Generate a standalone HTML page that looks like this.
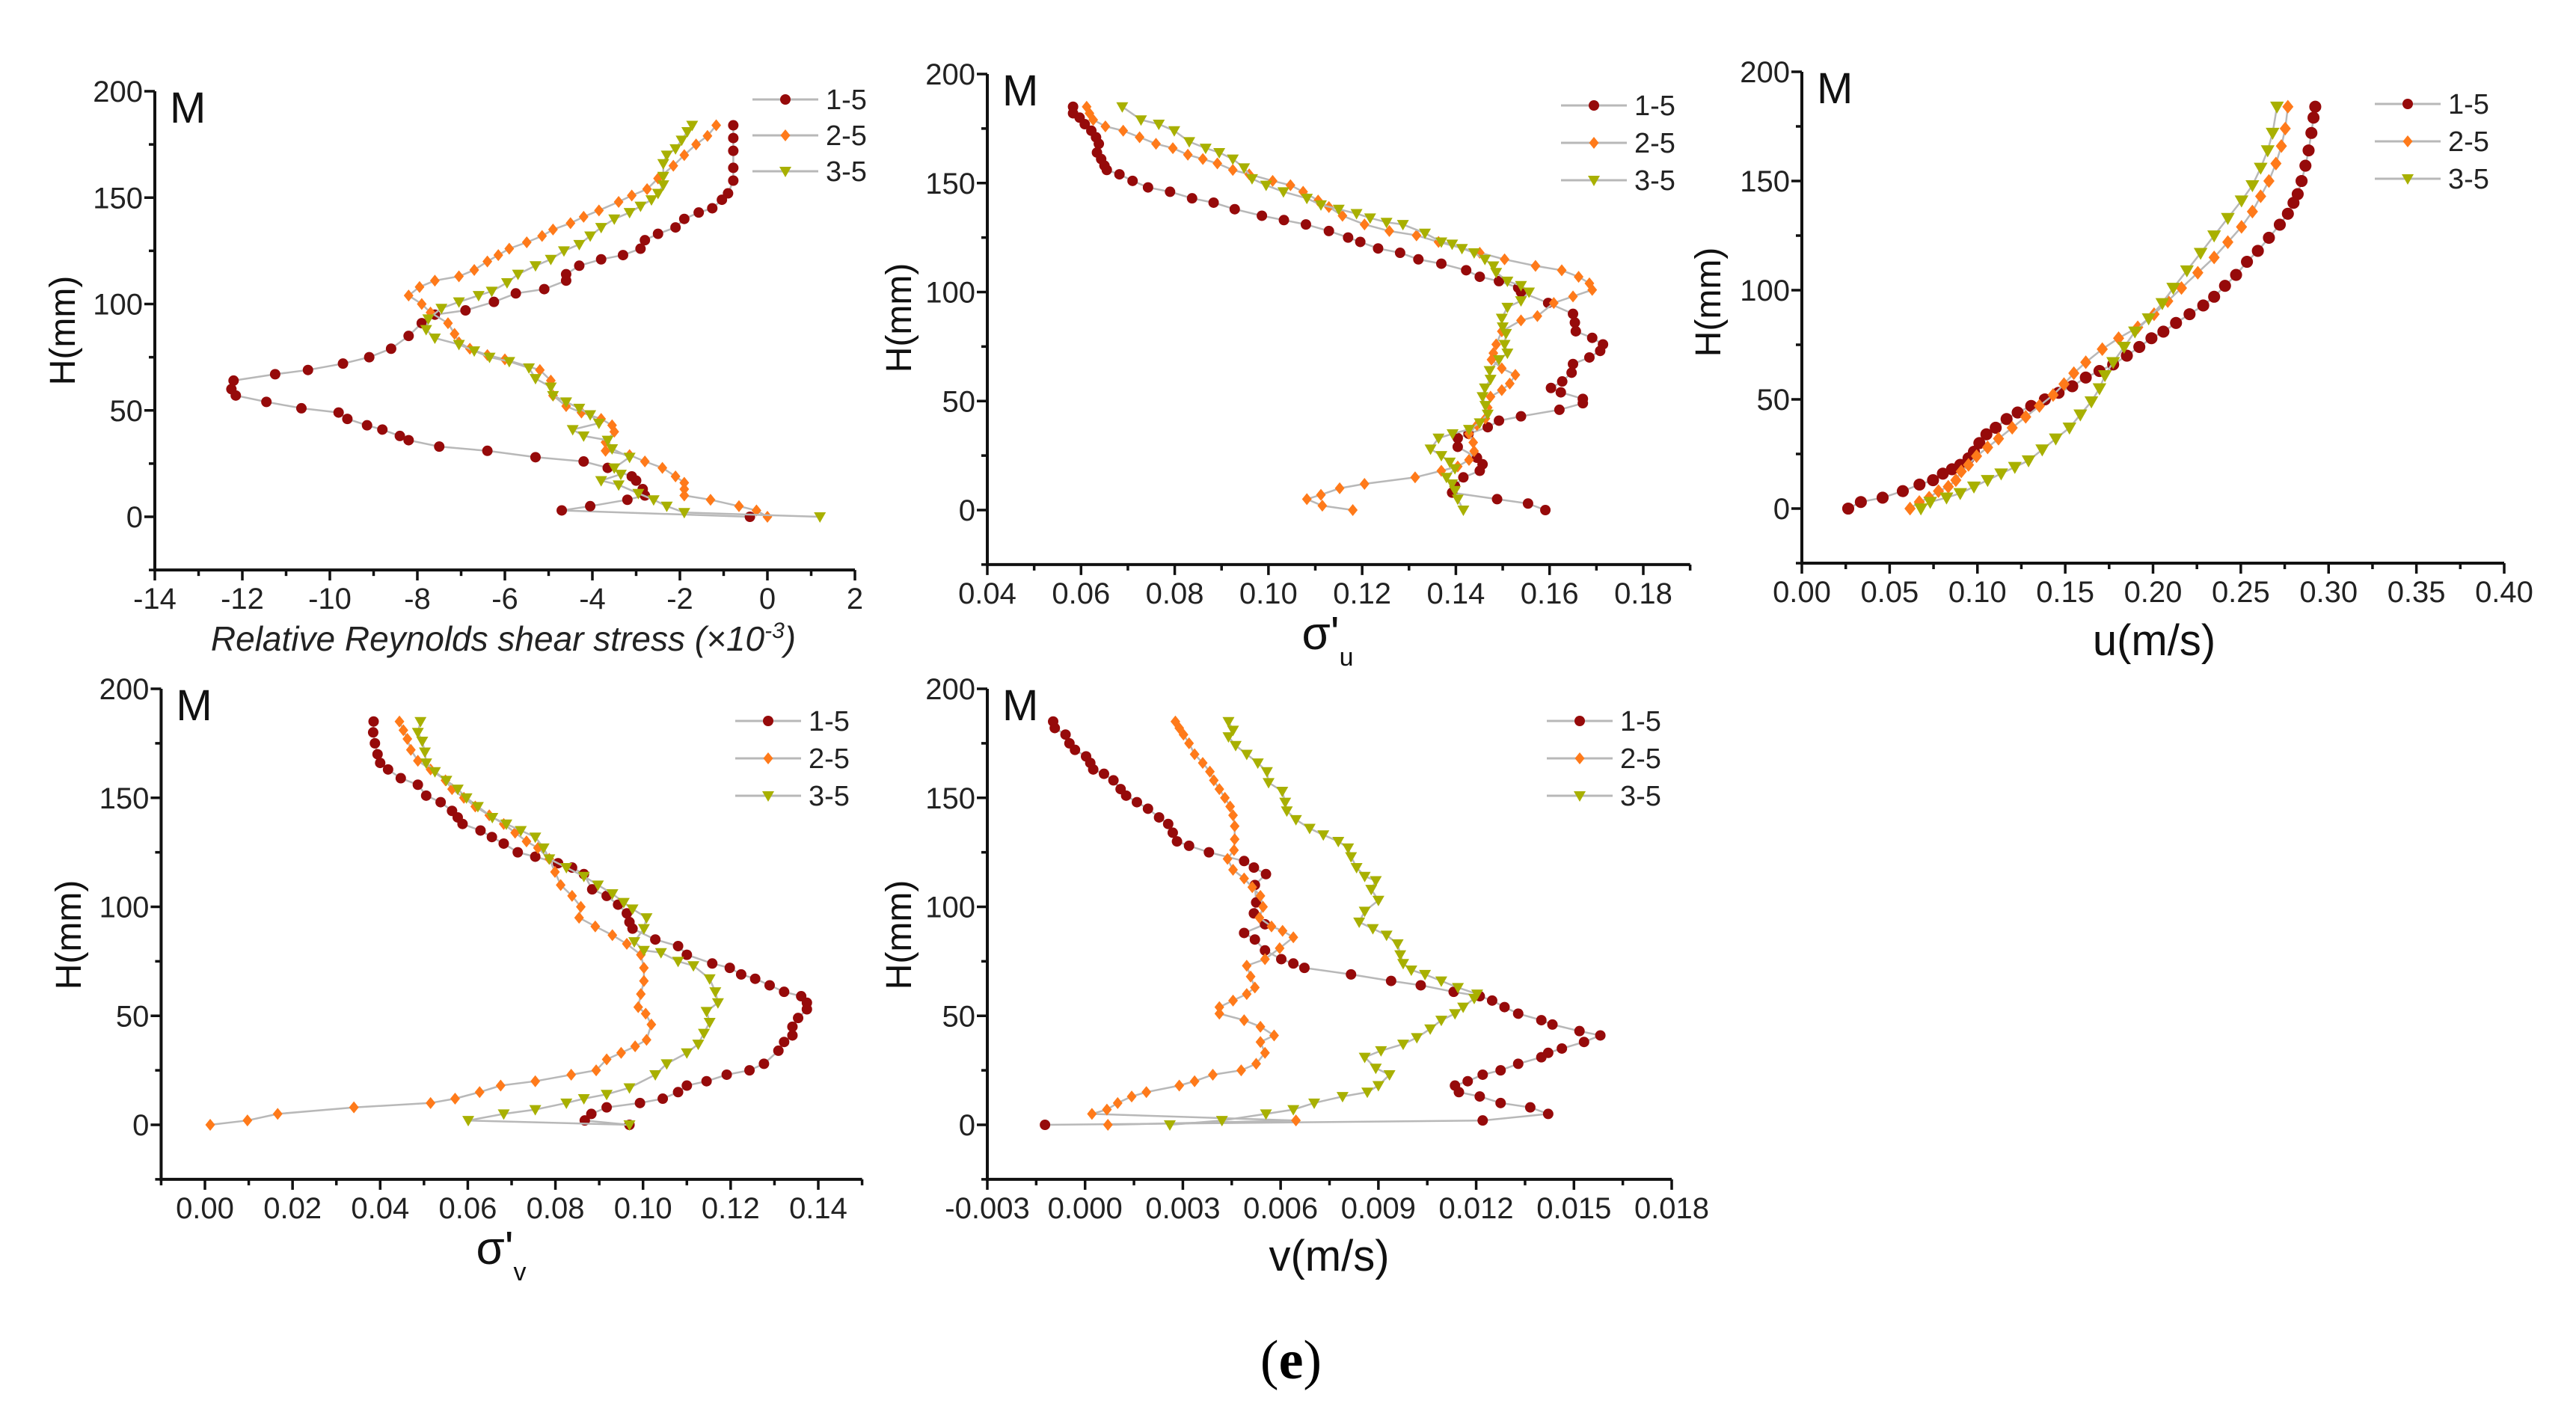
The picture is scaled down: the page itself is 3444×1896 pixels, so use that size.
<!DOCTYPE html>
<html><head><meta charset="utf-8"><style>
html,body{margin:0;padding:0;background:#fff;}
svg{display:block;font-family:"Liberation Sans",sans-serif;}
</style></head><body>
<svg id="fig" width="3444" height="1896" viewBox="0 0 3444 1896" xmlns="http://www.w3.org/2000/svg">
<rect width="3444" height="1896" fill="#fff"/>
<text x="1726" y="1843" text-anchor="middle" font-family="Liberation Serif, serif" font-size="74">(<tspan font-weight="bold">e</tspan>)</text>
</svg>
<script>
// ---- Panel 1: Relative Reynolds shear stress ----
const rs_h15=[184,178,172,164,158,152,149,145,143,140,136,133,130,126,123,121,118,114,111,107,105,101,97,95,91,85,79,75,72,69,67,64,60,57,54,51,49,46,43,41,38,36,33,31,28,26,23,19,17,13,10,8,5,3,0];
const rs_x15=[-0.78,-0.78,-0.78,-0.78,-0.78,-0.9,-1.04,-1.26,-1.57,-1.9,-2.1,-2.5,-2.8,-2.9,-3.3,-3.8,-4.3,-4.6,-4.6,-5.1,-5.75,-6.25,-6.9,-7.6,-7.9,-8.2,-8.6,-9.1,-9.7,-10.5,-11.25,-12.2,-12.25,-12.15,-11.45,-10.65,-9.8,-9.6,-9.15,-8.8,-8.4,-8.2,-7.5,-6.4,-5.3,-4.2,-3.65,-3.1,-3.0,-2.85,-2.8,-3.2,-4.05,-4.7,-0.4];
const rs_h25=[184,179,175,170,165,159,154,151,148,144,141,138,135,132,129,126,123,120,116,113,111,108,104,100,96,91,86,82,79,76,74,69,64,57,52,49,46,43,40,35,31,29,26,23,19,16,13,10,8,5,3,0];
const rs_x25=[-1.17,-1.37,-1.63,-1.9,-2.15,-2.5,-2.75,-3.1,-3.4,-3.85,-4.2,-4.5,-4.9,-5.15,-5.5,-5.9,-6.15,-6.4,-6.7,-7.05,-7.6,-7.95,-8.2,-7.9,-7.7,-7.3,-7.15,-7.05,-6.8,-6.4,-6.0,-5.2,-4.95,-4.9,-4.6,-4.25,-3.8,-3.55,-3.5,-3.7,-3.7,-3.15,-2.8,-2.4,-2.1,-1.9,-1.9,-1.9,-1.3,-0.65,-0.25,0];
const rs_h35=[184,181,177,173,170,166,160,156,152,149,146,143,140,136,132,128,125,121,118,114,110,106,104,101,98,93,88,84,81,78,75,73,70,65,61,57,54,51,48,44,41,38,36,32,28,23,20,17,15,11,8,5,2,0];
const rs_x35=[-1.72,-1.83,-1.96,-2.1,-2.3,-2.38,-2.38,-2.38,-2.5,-2.65,-2.9,-3.15,-3.5,-3.8,-4.05,-4.3,-4.65,-4.95,-5.3,-5.7,-5.95,-6.3,-6.6,-7.05,-7.45,-7.75,-7.8,-7.6,-7.05,-6.7,-6.35,-5.9,-5.45,-5.3,-4.95,-4.9,-4.6,-4.3,-4.05,-3.85,-4.45,-4.2,-3.65,-3.55,-3.15,-3.5,-3.35,-3.8,-3.4,-2.95,-2.6,-2.3,-1.9,1.2];
const rs_xticks=[-14,-12,-10,-8,-6,-4,-2,0,2];
const rs_xtickLabels=["-14","-12","-10","-8","-6","-4","-2","0","2"];

// ---- Panel 2: sigma'u ----
const su_h15=[185,182,180,177,174,171,168,164,161,158,156,154,151,148,146,143,141,138,135,133,131,128,125,123,120,118,115,113,110,107,105,102,100,95,90,86,82,79,76,73,70,67,63,59,56,54,51,49,46,43,41,38,35,33,29,24,21,18,15,11,8,5,3,0];
const su_x15=[0.0583,0.0583,0.0597,0.0608,0.0622,0.0632,0.0638,0.0634,0.0643,0.065,0.0655,0.0682,0.071,0.0743,0.079,0.0837,0.0883,0.0928,0.0986,0.1033,0.108,0.1129,0.117,0.1196,0.1234,0.1281,0.132,0.1369,0.1422,0.1451,0.1492,0.1533,0.1539,0.1597,0.165,0.1654,0.1656,0.1691,0.1714,0.1708,0.1685,0.165,0.1647,0.1627,0.1603,0.1624,0.1671,0.1671,0.1621,0.1539,0.1492,0.1468,0.1427,0.1404,0.1404,0.1445,0.1457,0.1451,0.1416,0.1398,0.1392,0.1488,0.1554,0.1591];
const su_h25=[185,182,179,176,174,171,168,166,163,161,159,156,154,151,149,146,142,139,135,131,128,126,123,118,115,112,110,107,104,101,98,95,89,87,82,76,72,69,65,62,58,55,52,47,42,39,35,31,27,23,20,18,15,12,10,7,5,2,0];
const su_x25=[0.0612,0.0618,0.0626,0.0652,0.069,0.0725,0.076,0.0796,0.0828,0.086,0.0891,0.0924,0.0959,0.1009,0.1047,0.1074,0.1106,0.1129,0.1158,0.1205,0.1258,0.1316,0.1363,0.1451,0.1504,0.157,0.1626,0.1662,0.1685,0.1691,0.165,0.1609,0.1574,0.1539,0.1498,0.1486,0.148,0.1476,0.1498,0.1527,0.1515,0.1498,0.1474,0.1468,0.1463,0.1445,0.1428,0.1437,0.1439,0.1428,0.1404,0.1369,0.1313,0.1205,0.1152,0.1112,0.1082,0.1115,0.118];
const su_h35=[185,179,177,174,169,166,164,161,157,152,149,146,143,140,138,136,134,132,131,127,123,122,120,118,115,112,109,105,103,100,96,93,88,84,81,76,72,69,64,60,56,52,48,44,40,37,35,33,28,25,22,19,15,12,9,5,0];
const su_x35=[0.0688,0.0728,0.0766,0.0799,0.0831,0.0866,0.0895,0.0924,0.0948,0.0965,0.0995,0.1032,0.1082,0.1112,0.115,0.1188,0.1217,0.1252,0.1287,0.1334,0.1369,0.1392,0.1413,0.1439,0.1462,0.148,0.1486,0.151,0.1539,0.1556,0.1539,0.151,0.1498,0.15,0.1507,0.1504,0.151,0.1492,0.1472,0.1474,0.1462,0.1457,0.1463,0.1468,0.1451,0.1428,0.1393,0.1363,0.1346,0.1369,0.1387,0.1398,0.138,0.1392,0.1398,0.1404,0.1416];
const su_xticks=[0.04,0.06,0.08,0.10,0.12,0.14,0.16,0.18];
const su_xtickLabels=["0.04","0.06","0.08","0.10","0.12","0.14","0.16","0.18"];

// ---- Panel 3: u ----
const u_h15=[0,3,5,8,11,13,16,18,20,23,26,30,34,37,41,44,47,50,53,56,60,63,66,70,74,78,81,85,89,93,97,102,107,113,118,124,130,135,140,144,150,157,164,172,179,184];
const u_x15=[0.0264,0.0336,0.046,0.0575,0.067,0.0747,0.0803,0.0855,0.0902,0.0949,0.098,0.1011,0.1051,0.1104,0.1166,0.1229,0.1306,0.1384,0.1462,0.154,0.1617,0.1695,0.1773,0.1851,0.1922,0.1991,0.2059,0.2131,0.2208,0.2286,0.2348,0.241,0.2473,0.2535,0.2597,0.266,0.2722,0.2768,0.28,0.2824,0.2846,0.2868,0.2886,0.2902,0.2914,0.2924];
const u_h25=[0,3,5,8,10,13,17,20,24,28,32,37,42,47,52,57,62,67,73,78,83,89,95,101,108,115,122,129,136,143,150,158,166,174,184];
const u_x25=[0.0616,0.0669,0.0725,0.0778,0.0834,0.0877,0.0908,0.0949,0.0995,0.1058,0.112,0.1198,0.1275,0.1353,0.1431,0.1493,0.1549,0.1617,0.1711,0.1804,0.1913,0.2006,0.2084,0.2162,0.2255,0.2348,0.2426,0.2504,0.2566,0.2613,0.266,0.27,0.2731,0.2753,0.2768];
const u_h35=[0,3,5,7,10,13,16,19,22,27,32,37,43,49,55,61,67,74,81,87,94,101,109,117,125,133,141,148,156,164,172,184];
const u_x35=[0.0678,0.0731,0.0824,0.0902,0.098,0.1058,0.1135,0.1213,0.1291,0.1369,0.1446,0.1524,0.1586,0.1649,0.1695,0.1726,0.1773,0.1835,0.1897,0.1975,0.2053,0.2115,0.2193,0.2271,0.2348,0.2426,0.2504,0.2566,0.2613,0.2653,0.2681,0.2706];
const u_xticks=[0,0.05,0.10,0.15,0.20,0.25,0.30,0.35,0.40];
const u_xtickLabels=["0.00","0.05","0.10","0.15","0.20","0.25","0.30","0.35","0.40"];

// ---- Panel 4: sigma'v ----
const sv_h15=[185,180,175,170,166,163,159,156,151,148,144,141,138,135,132,129,125,123,120,118,115,108,105,101,97,93,90,85,82,78,74,72,69,67,64,61,59,56,53,49,45,41,38,34,28,25,23,20,18,15,12,10,8,5,2,0];
const sv_x15=[0.0385,0.0384,0.0388,0.0394,0.04,0.0418,0.0447,0.0486,0.0505,0.0538,0.0564,0.0577,0.0588,0.0629,0.0655,0.0682,0.0714,0.0754,0.0806,0.0838,0.0865,0.0884,0.0917,0.0943,0.0963,0.0969,0.0976,0.1028,0.108,0.11,0.1158,0.1198,0.1224,0.1256,0.1289,0.1322,0.1361,0.1374,0.1374,0.1354,0.1341,0.1341,0.1322,0.1309,0.1276,0.1243,0.1191,0.1145,0.11,0.108,0.1045,0.0993,0.0917,0.0882,0.0867,0.0969];
const sv_h25=[185,181,177,172,167,163,158,154,150,146,142,138,134,130,127,122,116,110,105,100,95,91,87,83,78,72,66,60,54,51,46,39,36,33,30,25,23,20,18,15,12,10,8,5,2,0];
const sv_x25=[0.0444,0.0453,0.0462,0.047,0.0486,0.0515,0.0549,0.0564,0.0591,0.0617,0.0649,0.0682,0.0708,0.0734,0.076,0.0786,0.0799,0.0812,0.0838,0.0858,0.0854,0.0891,0.093,0.0963,0.0995,0.1002,0.1002,0.0995,0.0989,0.1006,0.1019,0.1008,0.0982,0.095,0.0917,0.0893,0.0836,0.0754,0.0675,0.0627,0.0571,0.0515,0.034,0.0166,0.0097,0.0012];
const sv_h35=[185,180,176,171,166,162,158,154,150,146,141,138,135,132,127,122,118,114,110,106,102,99,95,90,84,80,79,75,73,67,61,56,52,47,42,37,33,28,23,17,14,12,10,7,5,2,0];
const sv_x35=[0.0492,0.0486,0.0496,0.0502,0.0505,0.0525,0.0551,0.0577,0.0597,0.0623,0.0656,0.0688,0.0721,0.0754,0.0773,0.0786,0.0825,0.0865,0.0897,0.093,0.0956,0.0976,0.1008,0.1002,0.098,0.1002,0.1041,0.108,0.1115,0.1152,0.1165,0.1171,0.1145,0.1152,0.1139,0.1126,0.11,0.1054,0.1028,0.0969,0.0917,0.0865,0.0825,0.0754,0.0682,0.0601,0.0969];
const sv_xticks=[0,0.02,0.04,0.06,0.08,0.10,0.12,0.14];
const sv_xtickLabels=["0.00","0.02","0.04","0.06","0.08","0.10","0.12","0.14"];

// ---- Panel 5: v ----
const v_h15=[185,182,179,175,172,169,166,163,161,158,154,151,148,145,141,138,134,130,128,125,121,118,115,110,102,97,92,88,85,80,76,74,72,69,66,64,61,59,57,54,51,48,46,43,41,38,35,33,31,28,25,23,20,18,15,13,10,8,5,2,0];
const v_x15=[-0.00098,-0.00093,-0.0006,-0.00048,-0.00031,0.00003,0.00016,0.00025,0.00058,0.00087,0.00109,0.00126,0.00159,0.00193,0.00227,0.00255,0.00269,0.00282,0.00319,0.0038,0.00488,0.00518,0.00555,0.00521,0.00525,0.00518,0.00552,0.00488,0.00521,0.00552,0.00602,0.00639,0.00673,0.00816,0.00939,0.0103,0.01131,0.01211,0.01249,0.01287,0.01329,0.014,0.01434,0.01517,0.01581,0.01531,0.01463,0.01421,0.014,0.01329,0.01275,0.0122,0.01174,0.01135,0.01147,0.01211,0.01275,0.01366,0.01421,0.0122,-0.00123];
const v_h25=[185,182,179,175,170,166,162,158,154,150,146,142,137,131,126,122,117,113,109,105,100,95,91,89,86,81,76,73,68,63,60,57,54,51,48,45,41,38,33,28,25,23,20,18,15,13,10,7,5,2,0];
const v_x25=[0.00277,0.00289,0.00302,0.00319,0.00336,0.00361,0.00383,0.00395,0.00412,0.00429,0.00445,0.00454,0.00459,0.00459,0.00457,0.00437,0.00454,0.00488,0.00513,0.00538,0.00546,0.00535,0.00572,0.00606,0.00639,0.00597,0.00552,0.00496,0.00508,0.00521,0.00496,0.00454,0.00412,0.00412,0.00488,0.00538,0.0058,0.00538,0.00552,0.00525,0.00479,0.00392,0.00336,0.00289,0.00188,0.00143,0.001,0.00067,0.00021,0.00647,0.0007];
const v_h35=[185,181,178,174,170,166,162,157,153,148,144,140,136,133,130,127,123,118,114,112,108,103,98,93,90,87,83,78,74,71,69,66,63,60,58,54,51,48,44,40,37,34,31,26,23,18,15,13,10,7,5,2,0];
const v_x35=[0.0044,0.00454,0.0044,0.00462,0.00496,0.0053,0.00558,0.00563,0.00605,0.00614,0.00619,0.00647,0.00689,0.00731,0.00777,0.00807,0.00816,0.00833,0.00858,0.00892,0.00878,0.009,0.00858,0.00841,0.00883,0.00925,0.00959,0.00967,0.00976,0.01001,0.01043,0.01093,0.01144,0.01203,0.01194,0.0116,0.01135,0.01093,0.01059,0.01018,0.00976,0.00908,0.00858,0.00892,0.00934,0.009,0.00866,0.0079,0.00703,0.00639,0.00555,0.0042,0.0026];
const v_xticks=[-0.003,0,0.003,0.006,0.009,0.012,0.015,0.018];
const v_xtickLabels=["-0.003","0.000","0.003","0.006","0.009","0.012","0.015","0.018"];

const yTicks=[0,50,100,150,200];
const yTickLabels=["0","50","100","150","200"];
const seriesNames=["1-5","2-5","3-5"];

const NS="http://www.w3.org/2000/svg";
const svg=document.getElementById('fig');
const COLORS=["#960a0a","#ff7a1a","#a8b000"];
function mk(tag,attrs,parent){const e=document.createElementNS(NS,tag);for(const k in attrs)e.setAttribute(k,attrs[k]);(parent||svg).appendChild(e);return e;}

function panel(cfg){
  const g=mk('g',{});
  
  
  const sx=v=>cfg.x0px+(v-cfg.x0v)*(cfg.x1px-cfg.x0px)/(cfg.x1v-cfg.x0v);
  const sy=v=>cfg.y0px+(v)*(cfg.y200px-cfg.y0px)/200;
  const left=sx(cfg.xmin), right=sx(cfg.xmax), bottom=sy(-25), top=sy(200);
  const ax=mk('path',{d:`M${left},${top}L${left},${bottom}L${right},${bottom}`,fill:'none',stroke:'#111','stroke-width':4},g);
  
  
  for(let v=cfg.xmin;v<=cfg.xmax+1e-9;v+=cfg.minor){
    const px=sx(v);
    const isMaj=cfg.xticks.some(t=>Math.abs(t-v)<cfg.minor/10);
    const t=mk('line',{x1:px,y1:bottom,x2:px,y2:bottom+(isMaj?14:8),stroke:'#111','stroke-width':3.5},g);
    
    
  }
  cfg.xticks.forEach((v,i)=>{
    const t=mk('text',{x:sx(v),y:bottom+52,'text-anchor':'middle','font-size':40,fill:'#222'},g);
    
    
    t.textContent=cfg.xlabels[i];
  });
  for(let v=-25;v<=200;v+=25){
    const py=sy(v);const isMaj=v%50===0;
    const t=mk('line',{x1:left,y1:py,x2:left-(isMaj?14:8),y2:py,stroke:'#111','stroke-width':3.5},g);
    
    
  }
  yTicks.forEach((v,i)=>{
    const t=mk('text',{x:left-16,y:sy(v)+14,'text-anchor':'end','font-size':40,fill:'#222'},g);
    
    
    t.textContent=yTickLabels[i];
  });
  const yt=mk('text',{x:0,y:0,'text-anchor':'middle','font-size':48,fill:'#111',transform:`translate(${cfg.ytx},${cfg.yty}) rotate(-90)`},g);
  
  
  yt.textContent='H(mm)';
  const m=mk('text',{x:left+20,y:top+42,'font-size':58,fill:'#111'},g);
  
  
  m.textContent='M';
  const xt=mk('g',{},g);
  
  
  cfg.xtitle(xt);
  cfg.series.forEach((s,si)=>{
    const sg=mk('g',{},g);
    
    
    const n=Math.min(s.x.length,s.h.length);
    let d='';
    for(let i=0;i<n;i++){d+=(i?'L':'M')+sx(s.x[i]).toFixed(1)+','+sy(s.h[i]).toFixed(1);}
    const ln=mk('path',{d:d,fill:'none',stroke:'#b8b8b8','stroke-width':2.5},sg);
    
    
    for(let i=0;i<n;i++){
      const mk1=marker(sg,sx(s.x[i]),sy(s.h[i]),si,cfg.ms||1);
      
      
    }
  });
  seriesNames.forEach((nm,i)=>{
    const lg=mk('g',{},g);
    
    
    const y=cfg.legY+i*cfg.legDy;
    mk('line',{x1:cfg.legX,y1:y,x2:cfg.legX+88,y2:y,stroke:'#b8b8b8','stroke-width':3},lg);
    marker(lg,cfg.legX+44,y,i,1);
    const t=mk('text',{x:cfg.legX+98,y:y+13,'font-size':38,fill:'#222'},lg);
    t.textContent=nm;
  });
}
function marker(parent,x,y,si,s){
  const c=COLORS[si];
  if(si===0)return mk('circle',{cx:x,cy:y,r:7*s,fill:c},parent);
  if(si===1)return mk('path',{d:`M${x},${y-8*s}L${x+6.5*s},${y}L${x},${y+8*s}L${x-6.5*s},${y}Z`,fill:c},parent);
  return mk('path',{d:`M${x-8*s},${y-6*s}L${x+8*s},${y-6*s}L${x},${y+8*s}Z`,fill:c},parent);
}

panel({name:'reynolds-stress-panel',x0v:-14,x1v:2,x0px:207,x1px:1143,xmin:-14,xmax:2,minor:1,y0px:691,y200px:122,
  xticks:rs_xticks,xlabels:rs_xtickLabels,ytx:100,yty:442,legX:1006,legY:133,legDy:48,
  series:[{x:rs_x15,h:rs_h15},{x:rs_x25,h:rs_h25},{x:rs_x35,h:rs_h35}],
  xtitle:g=>{const t=mk('text',{x:673,y:870,'text-anchor':'middle','font-size':46,'font-style':'italic',fill:'#222'},g);
    t.innerHTML='Relative Reynolds shear stress (×10<tspan dy="-17" font-size="30">-3</tspan><tspan dy="17">)</tspan>';}});
panel({name:'sigma-u-panel',x0v:0.04,x1v:0.18,x0px:1320,x1px:2197,xmin:0.04,xmax:0.19,minor:0.01,y0px:682,y200px:99,
  xticks:su_xticks,xlabels:su_xtickLabels,ytx:1218,yty:425,legX:2087,legY:141,legDy:50,
  series:[{x:su_x15,h:su_h15},{x:su_x25,h:su_h25},{x:su_x35,h:su_h35}],
  xtitle:g=>{const t=mk('text',{x:1775,y:868,'text-anchor':'middle','font-size':62,fill:'#111'},g);
    t.innerHTML='σ\'<tspan dy="22" font-size="34">u</tspan>';}});
panel({name:'u-velocity-panel',x0v:0,x1v:0.4,x0px:2409,x1px:3348,xmin:0,xmax:0.4,minor:0.025,y0px:680,y200px:96,ms:1.15,
  xticks:u_xticks,xlabels:u_xtickLabels,ytx:2300,yty:404,legX:3175,legY:139,legDy:50,
  series:[{x:u_x15,h:u_h15},{x:u_x25,h:u_h25},{x:u_x35,h:u_h35}],
  xtitle:g=>{const t=mk('text',{x:2880,y:876,'text-anchor':'middle','font-size':58,fill:'#111'},g);t.textContent='u(m/s)';}});
panel({name:'sigma-v-panel',x0v:0,x1v:0.14,x0px:274,x1px:1094,xmin:-0.01,xmax:0.15,minor:0.01,y0px:1504,y200px:921,
  xticks:sv_xticks,xlabels:sv_xtickLabels,ytx:108,yty:1250,legX:983,legY:964,legDy:50,
  series:[{x:sv_x15,h:sv_h15},{x:sv_x25,h:sv_h25},{x:sv_x35,h:sv_h35}],
  xtitle:g=>{const t=mk('text',{x:670,y:1690,'text-anchor':'middle','font-size':62,fill:'#111'},g);
    t.innerHTML='σ\'<tspan dy="22" font-size="34">v</tspan>';}});
panel({name:'v-velocity-panel',x0v:-0.003,x1v:0.018,x0px:1320,x1px:2235,xmin:-0.003,xmax:0.018,minor:0.0015,y0px:1504,y200px:921,
  xticks:v_xticks,xlabels:v_xtickLabels,ytx:1218,yty:1250,legX:2068,legY:964,legDy:50,
  series:[{x:v_x15,h:v_h15},{x:v_x25,h:v_h25},{x:v_x35,h:v_h35}],
  xtitle:g=>{const t=mk('text',{x:1777,y:1699,'text-anchor':'middle','font-size':58,fill:'#111'},g);t.textContent='v(m/s)';}});
</script>
</body></html>
